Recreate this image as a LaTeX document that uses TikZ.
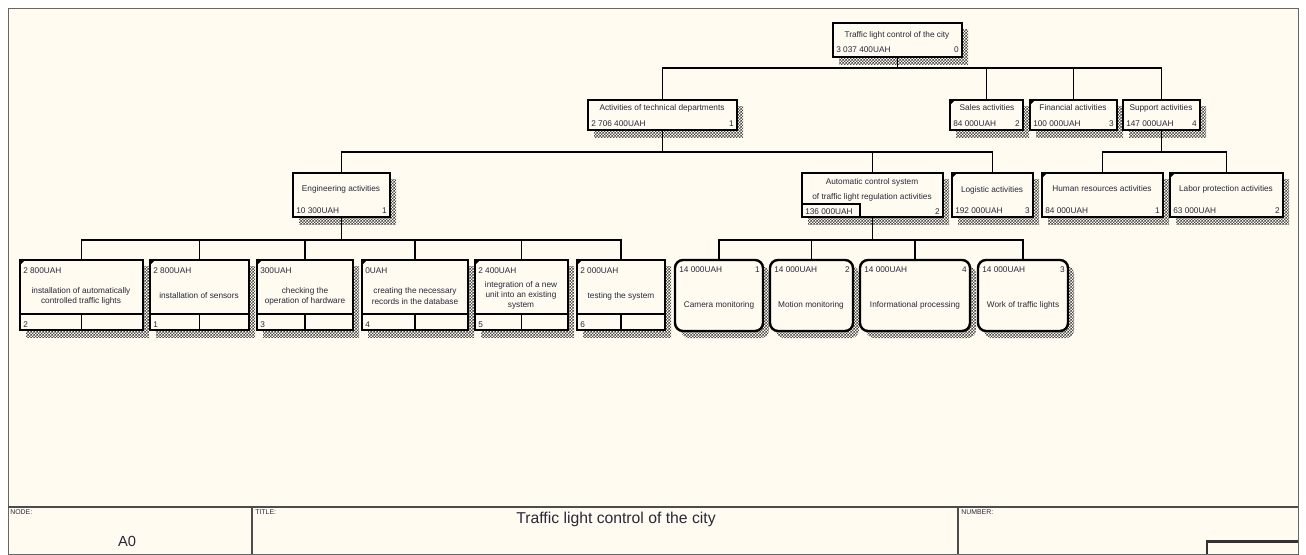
\documentclass[tikz,border=0pt]{standalone}
\usepackage{fontspec}
\setmainfont{Liberation Sans}
\usetikzlibrary{patterns}
\definecolor{paper}{RGB}{255,251,241}
\definecolor{ink}{RGB}{40,40,58}
% fine checkerboard used for the drop shadows
\pgfdeclarepatternformonly{finecheck}{\pgfpointorigin}{\pgfpoint{2.2pt}{2.2pt}}{\pgfpoint{2.2pt}{2.2pt}}{%
  \pgfpathrectangle{\pgfpointorigin}{\pgfpoint{1.1pt}{1.1pt}}%
  \pgfpathrectangle{\pgfpoint{1.1pt}{1.1pt}}{\pgfpoint{1.1pt}{1.1pt}}%
  \pgfusepath{fill}}
\tikzset{
  box/.style={draw=black, line width=1.4pt, fill=paper, inner sep=0pt, outer sep=0pt},
  rbox/.style={box, rounded corners=6pt, line width=1.8pt},
  hatch/.style={pattern=finecheck, pattern color=black!70},
  wire/.style={line width=1.4pt, draw=black},
  txt/.style={font=\fontsize{6.2}{7.6}\selectfont, text=ink, inner sep=0pt},
  cost/.style={txt, anchor=base west},
  num/.style={txt, anchor=base east},
  ttl/.style={txt, anchor=base},
  body/.style={txt, align=center, anchor=center},
  tiny/.style={font=\fontsize{5.2}{6}\selectfont, text=ink, inner sep=0pt, anchor=base west},
  corner/.style={fill=black}
}
% square activity box with hatched drop shadow: name, left, top, right, bottom
\newcommand\abox[5]{%
  \fill[hatch] ({#2+6},{#3+6}) rectangle ({#4+6},{#5+7});
  \node[box, minimum width={(#4-#2)*0.75pt}, minimum height={(#5-#3)*0.75pt}]
    (#1) at ({(#2+#4)/2},{(#3+#5)/2}) {};}
% rounded activity box with hatched drop shadow
\newcommand\roundbox[5]{%
  \fill[hatch, rounded corners=6pt] ({#2+6},{#3+6}) rectangle ({#4+6},{#5+7});
  \node[rbox, minimum width={(#4-#2)*0.75pt}, minimum height={(#5-#3)*0.75pt}]
    (#1) at ({(#2+#4)/2},{(#3+#5)/2}) {};}
% small filled mark in the upper left corner of a box
\newcommand\cornermark[1]{%
  \fill[corner] (#1.north west) -- ++(5,0) -- ++(-5,5) -- cycle;}
% footer strip of a task box: rule and centre divider
\newcommand\taskfoot[1]{%
  \draw[line width=1.4pt] ([shift={(0,-16)}]#1.south west) -- ([shift={(0,-16)}]#1.south east);
  \draw[line width=1.4pt] (#1.south) -- ++(0,-16);}
\begin{document}
\begin{tikzpicture}[x=0.75pt,y=-0.75pt]
\useasboundingbox (0,0) rectangle (1306,554);
\fill[white] (0,0) rectangle (1306,554);
\filldraw[fill=paper, draw=black!60, line width=0.6pt] (8,8) rectangle (1298,554);

% ---------- boxes ----------
\abox{root}{833}{23}{962}{57}
\abox{tech}{588}{100}{737}{130}
\abox{sales}{950}{100}{1023}{130}
\abox{fin}{1030}{100}{1117}{130}
\abox{sup}{1123}{100}{1200}{130}
\abox{eng}{293}{173}{390}{217}
\abox{acs}{802}{173}{943}{217}
\abox{logi}{952}{173}{1033}{217}
\abox{hum}{1042}{173}{1163}{217}
\abox{lab}{1170}{173}{1283}{217}
\abox{ta}{20}{260}{143}{330}
\abox{tb}{150}{260}{249}{330}
\abox{tc}{257}{260}{353}{330}
\abox{td}{362}{260}{468}{330}
\abox{te}{475}{260}{568}{330}
\abox{tf}{577}{260}{665}{330}
\roundbox{ra}{675}{260}{763}{331}
\roundbox{rb}{770}{260}{853}{331}
\roundbox{rc}{860}{260}{970}{331}
\roundbox{rd}{978}{260}{1068}{331}

\foreach \b in {sales,fin,logi,hum,lab,ta,tb,tc,td,te,tf} {\cornermark{\b}}
\foreach \b in {ta,tb,tc,td,te,tf} {\taskfoot{\b}}
\draw[line width=1.4pt] (acs.south west) rectangle ([shift={(58,-13)}]acs.south west);

% ---------- connectors ----------
\coordinate (busA) at (0,68);
\coordinate (busB) at (0,152);
\coordinate (busC) at (0,240);
\foreach \c in {tech,sales,fin,sup}
  \draw[wire] (root.south) -- (root.south |- busA) -| (\c.north);
\foreach \c in {eng,acs,logi}
  \draw[wire] (tech.south) -- (tech.south |- busB) -| (\c.north);
\foreach \c in {hum,lab}
  \draw[wire] (sup.south) -- (sup.south |- busB) -| (\c.north);
\foreach \c in {ta,tb,tc,td,te,tf}
  \draw[wire] (eng.south) -- (eng.south |- busC) -| (\c.north);
\foreach \c in {ra,rb,rc,rd}
  \draw[wire] (acs.south) -- (acs.south |- busC) -| (\c.north);

% ---------- labels ----------
\node[ttl] (root-t) at (897,37) {Traffic light control of the city};
\node[cost] (root-c) at (836,52) {3 037 400UAH};
\node[num] (root-n) at (959,52) {0};

\node[ttl] (tech-t) at (662,110) {Activities of technical departments};
\node[cost] (tech-c) at (591,126) {2 706 400UAH};
\node[num] (tech-n) at (734,126) {1};

\node[ttl] (sales-t) at (987,110) {Sales activities};
\node[cost] (sales-c) at (953,126) {84 000UAH};
\node[num] (sales-n) at (1020,126) {2};

\node[ttl] (fin-t) at (1073,110) {Financial activities};
\node[cost] (fin-c) at (1033,126) {100 000UAH};
\node[num] (fin-n) at (1114,126) {3};

\node[ttl] (sup-t) at (1161,110) {Support activities};
\node[cost] (sup-c) at (1126,126) {147 000UAH};
\node[num] (sup-n) at (1197,126) {4};

\node[ttl] (eng-t) at (341,191) {Engineering activities};
\node[cost] (eng-c) at (296,213) {10 300UAH};
\node[num] (eng-n) at (387,213) {1};

\node[ttl] (acs-t1) at (872,184) {Automatic control system};
\node[ttl] (acs-t2) at (872,199) {of traffic light regulation activities};
\node[cost] (acs-c) at (805,214) {136 000UAH};
\node[num] (acs-n) at (940,214) {2};

\node[ttl] (logi-t) at (992,192) {Logistic activities};
\node[cost] (logi-c) at (955,213) {192 000UAH};
\node[num] (logi-n) at (1030,213) {3};

\node[ttl] (hum-t) at (1102,191) {Human resources activities};
\node[cost] (hum-c) at (1045,213) {84 000UAH};
\node[num] (hum-n) at (1160,213) {1};

\node[ttl] (lab-t) at (1226,191) {Labor protection activities};
\node[cost] (lab-c) at (1173,213) {63 000UAH};
\node[num] (lab-n) at (1280,213) {2};

\node[cost] (ta-c) at (23,273) {2 800UAH};
\node[body] (ta-t) at (81,296) {installation of automatically\\controlled traffic lights};
\node[cost] (ta-n) at (23,327) {2};

\node[cost] (tb-c) at (153,273) {2 800UAH};
\node[body] (tb-t) at (199,296) {installation of sensors};
\node[cost] (tb-n) at (153,327) {1};

\node[cost] (tc-c) at (260,273) {300UAH};
\node[body] (tc-t) at (305,296) {checking the\\operation of hardware};
\node[cost] (tc-n) at (260,327) {3};

\node[cost] (td-c) at (365,273) {0UAH};
\node[body] (td-t) at (415,296) {creating the necessary\\records in the database};
\node[cost] (td-n) at (365,327) {4};

\node[cost] (te-c) at (478,273) {2 400UAH};
\node[body] (te-t) at (521,295) {integration of a new\\unit into an existing\\system};
\node[cost] (te-n) at (478,327) {5};

\node[cost] (tf-c) at (580,273) {2 000UAH};
\node[body] (tf-t) at (621,296) {testing the system};
\node[cost] (tf-n) at (580,327) {6};

\node[cost] (ra-c) at (679,272) {14 000UAH};
\node[num] (ra-n) at (760,272) {1};
\node[body] (ra-t) at (719,305) {Camera monitoring};

\node[cost] (rb-c) at (774,272) {14 000UAH};
\node[num] (rb-n) at (850,272) {2};
\node[body] (rb-t) at (811,305) {Motion monitoring};

\node[cost] (rc-c) at (864,272) {14 000UAH};
\node[num] (rc-n) at (967,272) {4};
\node[body] (rc-t) at (915,305) {Informational processing};

\node[cost] (rd-c) at (982,272) {14 000UAH};
\node[num] (rd-n) at (1065,272) {3};
\node[body] (rd-t) at (1023,305) {Work of traffic lights};

% ---------- title block ----------
\draw[black!70, line width=0.8pt] (8,507) -- (1298,507);
\draw[black!70, line width=0.8pt] (252,507) -- (252,554);
\draw[black!70, line width=0.8pt] (958,507) -- (958,554);
\draw[black!80, line width=0.8pt] (1207,554) -- (1207,541) -- (1298,541);
\draw[black!80, line width=1.2pt] (1208,542) -- (1298,542);
\node[tiny] (f-node) at (10,514) {NODE:};
\node[tiny] (f-title) at (255,514) {TITLE:};
\node[tiny] (f-num) at (961,514) {NUMBER:};
\node[font=\fontsize{11}{13}\selectfont, text=ink, inner sep=0pt] (f-a0) at (127,541) {A0};
\node[font=\fontsize{11.8}{14}\selectfont, text=ink, inner sep=0pt] (f-name) at (616,519) {Traffic light control of the city};
\end{tikzpicture}
\end{document}
